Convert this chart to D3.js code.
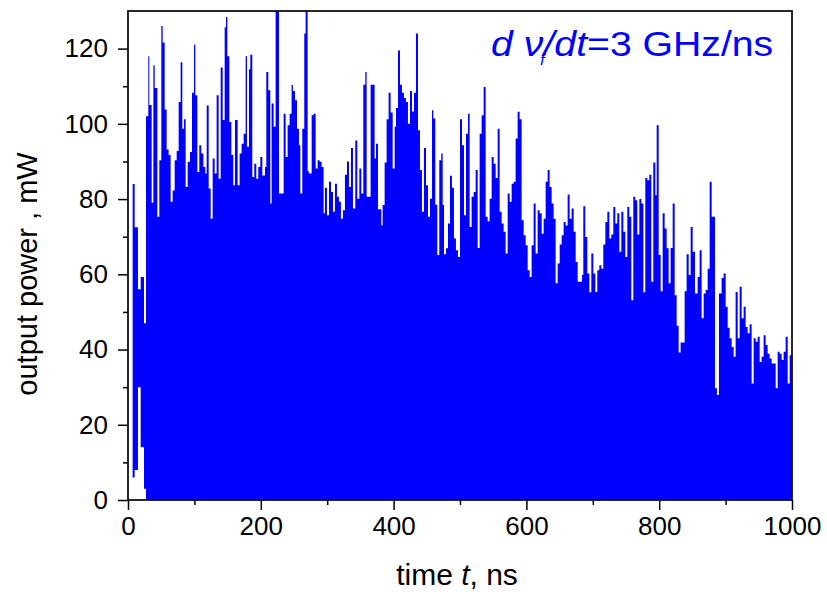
<!DOCTYPE html>
<html>
<head>
<meta charset="utf-8">
<script src="https://cdn.jsdelivr.net/npm/d3@7"></script>
<style>
  html, body { margin: 0; padding: 0; background: #fff; }
  svg { display: block; font-family: "Liberation Sans", Arial, sans-serif; }
</style>
</head>
<body>
<svg id="chart" width="827" height="594"></svg>
<script>
// Laser output power trace: start time of each sample (ns) and its peak power (mW)
const sampleStart = [
  7.0,10.0,15.0,19.1,24.1,27.1,30.6,32.1,35.6,38.2,40.2,44.2,47.2,50.2,52.2,55.2,58.2,61.2,64.2,67.3,
  70.3,73.3,76.3,79.3,81.8,84.3,86.8,89.9,93.4,96.4,99.4,101.4,104.4,107.4,110.4,113.5,116.5,118.5,121.5,124.5,
  127.5,130.5,133.5,136.5,139.6,142.6,145.6,147.6,149.6,152.6,155.6,158.6,
  161.1,165.1,168.1,171.1,174.2,177.2,179.2,182.2,184.2,187.2,190.2,193.2,196.2,199.3,202.3,206.3,208.3,211.3,
  214.3,216.3,219.3,222.3,227.4,234.4,237.4,240.4,243.4,246.4,248.4,251.5,254.5,257.5,259.5,262.5,265.5,267.5,
  270.5,272.5,276.6,279.6,282.6,285.6,288.6,291.6,294.6,296.6,299.6,302.7,305.7,308.7,311.7,314.7,317.7,320.7,
  323.7,326.7,329.8,332.8,335.8,338.8,
  342.3,345.3,348.4,351.4,354.4,357.4,359.4,365.4,371.4,373.5,376.5,381.5,383.5,386.5,389.5,392.5,395.5,398.6,
  401.6,403.6,406.6,409.6,412.6,415.6,418.6,421.6,424.7,427.7,430.7,433.7,436.7,439.7,442.7,445.7,448.8,451.8,
  454.8,457.8,459.8,462.8,465.8,468.8,471.8,473.9,475.9,478.9,481.9,484.9,487.9,490.9,493.9,496.9,500.0,503.0,
  506.0,509.0,512.0,
  514.5,517.5,520.6,523.6,526.6,529.6,532.6,535.6,538.6,541.6,544.6,547.7,550.7,553.7,556.7,559.7,562.7,565.7,
  568.7,571.8,574.8,577.8,580.8,583.8,586.8,589.8,592.8,595.9,598.9,601.9,604.9,607.9,610.9,613.9,616.9,620.0,
  623.0,626.0,629.0,632.0,635.0,638.0,641.0,644.0,647.1,650.1,653.1,656.1,659.1,662.1,665.1,668.1,671.2,674.2,
  677.2,683.7,685.7,688.7,691.7,694.8,697.8,700.8,703.8,706.8,709.8,712.8,715.8,718.9,721.9,724.9,727.9,730.9,
  733.9,736.9,739.9,743.0,746.0,749.0,752.0,755.0,758.0,761.0,764.0,767.0,770.1,773.1,776.1,779.1,782.1,785.1,
  788.1,791.1,794.2,796.2,799.2,802.2,805.2,808.2,811.2,814.2,817.2,820.3,823.3,826.3,829.3,832.3,838.3,841.3,
  844.4,847.4,850.4,
  853.9,857.9,860.9,863.9,867.0,870.0,873.0,876.0,879.0,884.0,887.0,890.0,894.0,897.0,900.1,903.1,906.1,909.1,
  912.1,915.1,918.2,921.2,924.2,927.2,930.2,933.2,936.2,939.2,942.3,945.3,948.3,951.3,954.3,957.3,960.3,963.3,
  966.3,969.4,972.4,975.4,978.4,981.4,984.4,987.4,990.4,993.5,996.5
];

const peakPower = [
  84,72.5,56,59.3,47,102,118,105,79,115.6,109.5,75.3,90.3,126,121.6,103.8,93.2,91.7,79.3,82.3,
  90.3,92.8,105.8,116.4,98.7,101.2,83.2,89.9,92.5,108.3,121,107.6,87.2,94.3,92.1,88.5,86.8,104.9,82.8,74.8,
  90.8,86.8,107.6,85.4,115,101,125.7,128.4,118,100.5,91.7,83.7,
  101,83.7,92.1,94.7,97.4,118,93.9,114.5,118.4,85.9,89.4,85.4,88.5,91.2,86.3,88.5,113.8,108.9,
  78.8,105.4,99.2,133,81.5,102.7,91.2,99.6,102.7,110.3,108.7,106.3,98.7,94.3,81.5,98.7,124,133,
  87.4,86.8,102.3,102.7,88.1,90.3,89.9,88.5,76.2,83,75.7,84.6,81.9,76.6,84.1,80.6,79.3,74.8,
  77,86.5,90,83.2,93.6,77.5,
  95.6,80.1,88.1,81.5,110.4,113.8,80.6,110.4,90.8,94.7,77.3,73,78.4,89.7,101.2,108.3,103,88.1,
  99.2,104.2,119.5,110.4,108.3,106.9,105.8,100,108.7,103.3,108.3,124,98.3,87.7,76.6,93.6,83.7,75.3,
  80.1,103.6,101.4,78.5,65.1,90.3,92.1,78.4,65.3,66.9,73.5,86.2,83,69.5,66.4,64.6,101.2,94.3,
  75.7,97.4,102.7,
  72.6,80.6,81.9,87.7,67,97.4,102.3,109.8,75.3,74.1,80.1,91.2,89.4,85.6,98.7,76.6,73.5,71.3,
  65.5,81.5,79.3,84.1,84.6,96.1,103.2,101.2,74.4,70.4,67.7,61.1,59.3,67.7,78.8,65.5,77,76.2,
  70.8,74.8,84.6,87.7,83.2,78.8,74.8,57.6,62.9,67.9,70.4,73.9,73,81.2,74.8,77.5,71.3,63.3,
  58,59.8,78.1,69.9,60.2,55.2,65.5,60.2,55.3,61.1,62.4,61.5,67.9,73.9,76.6,69.5,70.6,77.9,
  73.5,76.2,66,76.6,71.3,64.6,77.9,75.3,53.1,80.6,79.7,70.6,80,78.8,55.2,85.6,85,86.5,
  58,89.7,81,99.6,65.1,55.5,76.2,72.2,66.9,57.6,67,78.8,54.4,46.3,39.2,41.9,55.5,65.3,
  59.8,72.6,66,
  54.9,59.3,66.4,48.3,54.9,55.8,61.5,84.6,75.3,29.7,27.9,54.9,59,60.2,51.4,45.8,43,40.7,
  38.1,55.3,43,56.7,48.3,51.4,46,44.3,46.7,31,43,42.1,43.4,36.7,38.1,43.8,41.2,38.9,
  37.6,36.3,36.3,29.7,39.4,38.9,37.2,39.4,43.4,31,38.5
];

// During turn-on the oscillation does not fall back to zero: lower bound of the first samples (mW)
const startupFloor = [6, 8, 30, 14, 3];

const yMajorTicks = [0, 20, 40, 60, 80, 100, 120];
const yMinorTicks = [10, 30, 50, 70, 90, 110];
const xMajorTicks = [0, 200, 400, 600, 800, 1000];
const xMinorTicks = [100, 300, 500, 700, 900];

const svg = d3.select("#chart");
const plotLeft = 128, plotRight = 792, plotTop = 11, plotBottom = 500;

const x = d3.scaleLinear().domain([0, 1000]).range([plotLeft, plotRight]);
const y = d3.scaleLinear().domain([0, 130]).range([plotBottom, plotTop]);

const blue = "#0000ff";

// clip so that spikes above the axis maximum are cut at the frame
svg.append("clipPath").attr("id", "plotClip")
  .append("rect").attr("x", plotLeft).attr("y", plotTop)
  .attr("width", plotRight - plotLeft).attr("height", plotBottom - plotTop);

const samples = sampleStart.map((t, i) => ({
  t,
  hi: peakPower[i],
  lo: i < startupFloor.length ? startupFloor[i] : 0
}));
const lastSample = samples[samples.length - 1];
samples.push({ t: 1000, hi: lastSample.hi, lo: lastSample.lo });

const area = d3.area()
  .curve(d3.curveStepAfter)
  .x(d => x(d.t))
  .y0(d => y(d.lo))
  .y1(d => y(d.hi));

svg.append("path")
  .datum(samples)
  .attr("clip-path", "url(#plotClip)")
  .attr("fill", blue)
  .attr("stroke", "none")
  .attr("d", area);

// axes
const axisColor = "#000";
const yAxisMajor = svg.append("g")
  .attr("transform", `translate(${plotLeft},0)`)
  .call(d3.axisLeft(y).tickValues(yMajorTicks).tickSize(10).tickPadding(10).tickFormat(d3.format("d")));
const yAxisMinor = svg.append("g")
  .attr("transform", `translate(${plotLeft},0)`)
  .call(d3.axisLeft(y).tickValues(yMinorTicks).tickSize(5).tickFormat(""));
const xAxisMajor = svg.append("g")
  .attr("transform", `translate(0,${plotBottom})`)
  .call(d3.axisBottom(x).tickValues(xMajorTicks).tickSize(10).tickPadding(7).tickFormat(d3.format("d")));
const xAxisMinor = svg.append("g")
  .attr("transform", `translate(0,${plotBottom})`)
  .call(d3.axisBottom(x).tickValues(xMinorTicks).tickSize(5).tickFormat(""));

[yAxisMajor, yAxisMinor, xAxisMajor, xAxisMinor].forEach(g => {
  g.select(".domain").remove();
  g.selectAll(".tick line").attr("stroke", axisColor).attr("stroke-width", 1.5);
  g.selectAll(".tick text")
    .attr("fill", "#000")
    .style("font-family", "'Liberation Sans', Arial, sans-serif")
    .style("font-size", "26px");
});

// frame
svg.append("rect")
  .attr("x", plotLeft).attr("y", plotTop)
  .attr("width", plotRight - plotLeft).attr("height", plotBottom - plotTop)
  .attr("fill", "none").attr("stroke", "#111").attr("stroke-width", 1.8);

// axis titles
svg.append("text")
  .attr("x", 457).attr("y", 585)
  .attr("text-anchor", "middle")
  .style("font-size", "30px")
  .call(t => {
    t.append("tspan").text("time ");
    t.append("tspan").style("font-style", "italic").text("t");
    t.append("tspan").text(", ns");
  });

svg.append("text")
  .attr("transform", "translate(37,274) rotate(-90)")
  .attr("text-anchor", "middle")
  .style("font-size", "29px")
  .text("output power , mW");

// annotation: rate of the frequency sweep, slightly widened lettering
const note = svg.append("g")
  .attr("transform", "translate(491,56) scale(1.12,1)");
note.append("text")
  .attr("x", 0).attr("y", 0)
  .attr("fill", blue)
  .style("font-size", "35px")
  .call(t => {
    t.append("tspan").style("font-style", "italic").text("d ");
    t.append("tspan").style("font-style", "italic").text("ν");
    t.append("tspan").style("font-style", "italic").style("font-size", "15px")
      .attr("dx", -3).attr("dy", 9).text("f");
    t.append("tspan").style("font-style", "italic").attr("dx", -1).attr("dy", -9).text("/dt");
    t.append("tspan").text("=3 GHz/ns");
  });
</script>
</body>
</html>
